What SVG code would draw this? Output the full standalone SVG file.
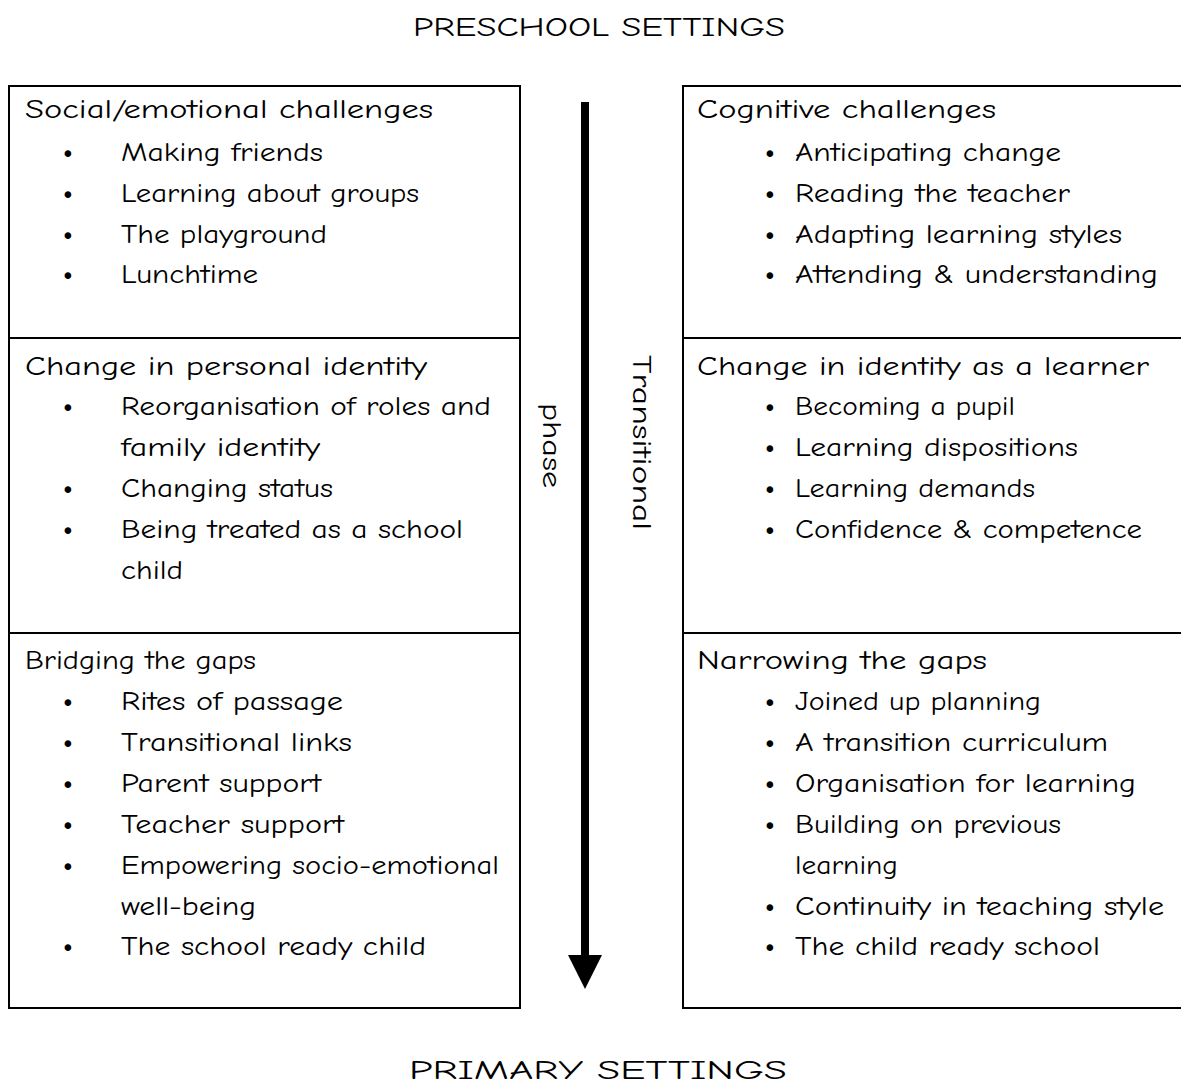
<svg xmlns="http://www.w3.org/2000/svg" width="1181" height="1091" viewBox="0 0 1181 1091">
  <style>
    text { font-family: "Comic Sans MS", "Comic Neue", "DejaVu Sans", sans-serif; font-size: 27px; fill: #000; }
    .title { text-anchor: middle; }
    .dot { text-anchor: middle; font-size: 36px; }
    .box { fill: #fff; stroke: #000; stroke-width: 2; }
  </style>
  <defs>
    <marker id="head" markerUnits="userSpaceOnUse" markerWidth="34" markerHeight="36" refX="0" refY="17" orient="auto">
      <path d="M0,0 L34,17 L0,34 Z" fill="#000"/>
    </marker>
  </defs>

  <text class="title" x="599" y="36" textLength="372" lengthAdjust="spacingAndGlyphs">PRESCHOOL SETTINGS</text>
  <text class="title" x="598" y="1079" textLength="378" lengthAdjust="spacingAndGlyphs">PRIMARY SETTINGS</text>

  <!-- left column -->
  <g id="social-emotional">
    <rect class="box" x="9" y="86" width="511" height="252"/>
    <text x="25" y="118" textLength="408" lengthAdjust="spacingAndGlyphs">Social/emotional challenges</text>
    <text class="dot" x="68" y="163">•</text><text x="121" y="161" textLength="202" lengthAdjust="spacingAndGlyphs">Making friends</text>
    <text class="dot" x="68" y="204">•</text><text x="121" y="202" textLength="298" lengthAdjust="spacingAndGlyphs">Learning about groups</text>
    <text class="dot" x="68" y="245">•</text><text x="121" y="243" textLength="206" lengthAdjust="spacingAndGlyphs">The playground</text>
    <text class="dot" x="68" y="285">•</text><text x="121" y="283" textLength="137" lengthAdjust="spacingAndGlyphs">Lunchtime</text>
  </g>
  <g id="personal-identity">
    <rect class="box" x="9" y="338" width="511" height="295"/>
    <text x="25" y="375" textLength="402" lengthAdjust="spacingAndGlyphs">Change in personal identity</text>
    <text class="dot" x="68" y="417">•</text><text x="121" y="415" textLength="370" lengthAdjust="spacingAndGlyphs">Reorganisation of roles and</text>
    <text x="121" y="456" textLength="199" lengthAdjust="spacingAndGlyphs">family identity</text>
    <text class="dot" x="68" y="499">•</text><text x="121" y="497" textLength="212" lengthAdjust="spacingAndGlyphs">Changing status</text>
    <text class="dot" x="68" y="540">•</text><text x="121" y="538" textLength="342" lengthAdjust="spacingAndGlyphs">Being treated as a school</text>
    <text x="121" y="579" textLength="62" lengthAdjust="spacingAndGlyphs">child</text>
  </g>
  <g id="bridging">
    <rect class="box" x="9" y="633" width="511" height="375"/>
    <text x="25" y="669" textLength="231" lengthAdjust="spacingAndGlyphs">Bridging the gaps</text>
    <text class="dot" x="68" y="712">•</text><text x="121" y="710" textLength="222" lengthAdjust="spacingAndGlyphs">Rites of passage</text>
    <text class="dot" x="68" y="753">•</text><text x="121" y="751" textLength="231" lengthAdjust="spacingAndGlyphs">Transitional links</text>
    <text class="dot" x="68" y="794">•</text><text x="121" y="792" textLength="200" lengthAdjust="spacingAndGlyphs">Parent support</text>
    <text class="dot" x="68" y="835">•</text><text x="121" y="833" textLength="223" lengthAdjust="spacingAndGlyphs">Teacher support</text>
    <text class="dot" x="68" y="876">•</text><text x="121" y="874" textLength="378" lengthAdjust="spacingAndGlyphs">Empowering socio-emotional</text>
    <text x="121" y="915" textLength="135" lengthAdjust="spacingAndGlyphs">well-being</text>
    <text class="dot" x="68" y="957">•</text><text x="121" y="955" textLength="305" lengthAdjust="spacingAndGlyphs">The school ready child</text>
  </g>

  <!-- right column -->
  <g id="cognitive">
    <rect class="box" x="683" y="86" width="510" height="252"/>
    <text x="697" y="118" textLength="299" lengthAdjust="spacingAndGlyphs">Cognitive challenges</text>
    <text class="dot" x="770" y="163">•</text><text x="795" y="161" textLength="266" lengthAdjust="spacingAndGlyphs">Anticipating change</text>
    <text class="dot" x="770" y="204">•</text><text x="795" y="202" textLength="275" lengthAdjust="spacingAndGlyphs">Reading the teacher</text>
    <text class="dot" x="770" y="245">•</text><text x="795" y="243" textLength="327" lengthAdjust="spacingAndGlyphs">Adapting learning styles</text>
    <text class="dot" x="770" y="285">•</text><text x="795" y="283" textLength="363" lengthAdjust="spacingAndGlyphs">Attending &amp; understanding</text>
  </g>
  <g id="learner-identity">
    <rect class="box" x="683" y="338" width="510" height="295"/>
    <text x="697" y="375" textLength="452" lengthAdjust="spacingAndGlyphs">Change in identity as a learner</text>
    <text class="dot" x="770" y="417">•</text><text x="795" y="415" textLength="220" lengthAdjust="spacingAndGlyphs">Becoming a pupil</text>
    <text class="dot" x="770" y="458">•</text><text x="795" y="456" textLength="283" lengthAdjust="spacingAndGlyphs">Learning dispositions</text>
    <text class="dot" x="770" y="499">•</text><text x="795" y="497" textLength="240" lengthAdjust="spacingAndGlyphs">Learning demands</text>
    <text class="dot" x="770" y="540">•</text><text x="795" y="538" textLength="347" lengthAdjust="spacingAndGlyphs">Confidence &amp; competence</text>
  </g>
  <g id="narrowing">
    <rect class="box" x="683" y="633" width="510" height="375"/>
    <text x="697" y="669" textLength="290" lengthAdjust="spacingAndGlyphs">Narrowing the gaps</text>
    <text class="dot" x="770" y="712">•</text><text x="795" y="710" textLength="246" lengthAdjust="spacingAndGlyphs">Joined up planning</text>
    <text class="dot" x="770" y="753">•</text><text x="795" y="751" textLength="313" lengthAdjust="spacingAndGlyphs">A transition curriculum</text>
    <text class="dot" x="770" y="794">•</text><text x="795" y="792" textLength="341" lengthAdjust="spacingAndGlyphs">Organisation for learning</text>
    <text class="dot" x="770" y="835">•</text><text x="795" y="833" textLength="266" lengthAdjust="spacingAndGlyphs">Building on previous</text>
    <text x="795" y="874" textLength="103" lengthAdjust="spacingAndGlyphs">learning</text>
    <text class="dot" x="770" y="917">•</text><text x="795" y="915" textLength="369" lengthAdjust="spacingAndGlyphs">Continuity in teaching style</text>
    <text class="dot" x="770" y="957">•</text><text x="795" y="955" textLength="305" lengthAdjust="spacingAndGlyphs">The child ready school</text>
  </g>

  <!-- transitional phase arrow -->
  <g id="connectors">
    <line x1="585" y1="102" x2="585" y2="955" stroke="#000" stroke-width="8" marker-end="url(#head)"/>
  </g>
  <g id="phase-label">
    <text transform="translate(633,355) rotate(90)" textLength="175" lengthAdjust="spacingAndGlyphs">Transitional</text>
    <text transform="translate(543,403) rotate(90)" textLength="85" lengthAdjust="spacingAndGlyphs">phase</text>
  </g>
</svg>
